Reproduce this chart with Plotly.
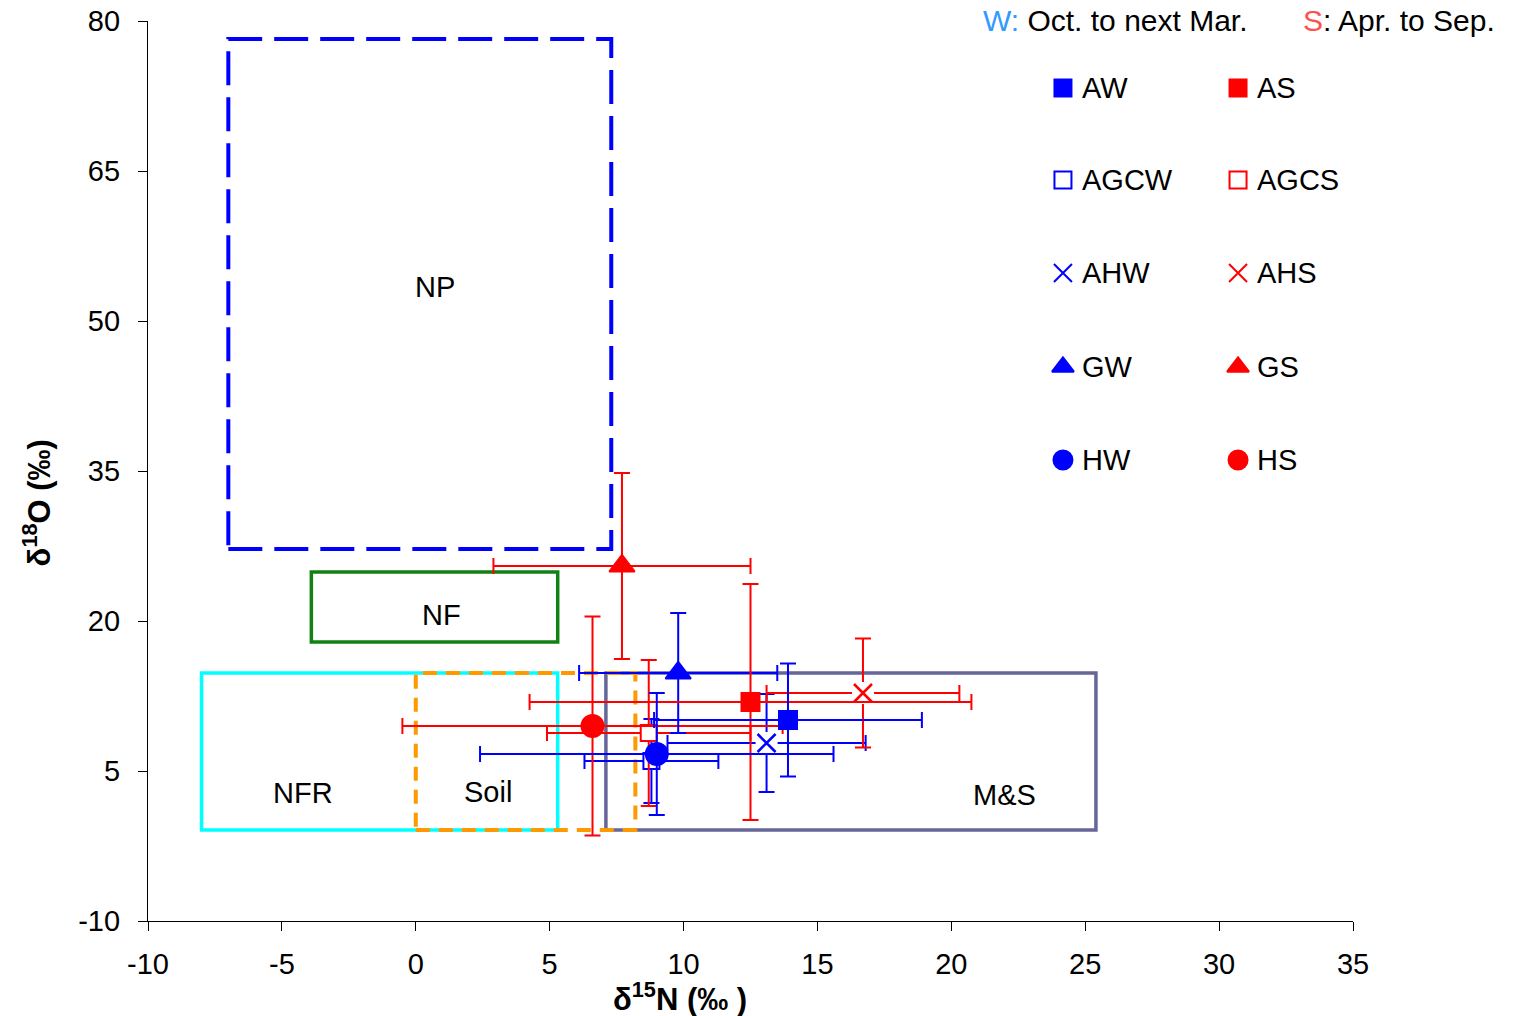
import plotly.graph_objects as go

# ---------------- data ----------------
series = ["AW", "AS", "AGCW", "AGCS", "AHW", "AHS", "GW", "GS", "HW", "HS"]
x_val = [13.9, 12.5, 8.8, 8.7, 13.1, 16.7, 9.8, 7.7, 9.0, 6.6]
y_val = [10.1, 11.9, 6.0, 8.8, 7.8, 12.8, 14.8, 25.5, 6.7, 9.5]
x_err = [5.0, 8.25, 2.5, 3.8, 3.7, 3.6, 3.7, 4.8, 6.6, 7.1]
y_err = [5.65, 11.8, 4.2, 7.3, 4.9, 5.45, 6.0, 9.3, 6.1, 10.95]

# source boxes (delta15N range, delta18O range)
box_names = ["NFR", "M&S", "Soil", "NF", "NP"]
box_x0 = [-8.0, 7.1, 0.0, -3.9, -7.0]
box_x1 = [5.3, 25.4, 8.2, 5.3, 7.3]
box_y0 = [-0.9, -0.9, -0.9, 17.9, 27.2]
box_y1 = [14.8, 14.8, 14.8, 24.9, 78.2]
box_label_x = [-4.2, 22.0, 2.7, 0.95, 0.7]
box_label_y = [2.8, 2.6, 2.9, 20.6, 53.4]

x_ticks = [-10, -5, 0, 5, 10, 15, 20, 25, 30, 35]
x_tick_text = ["-10", "-5", "0", "5", "10", "15", "20", "25", "30", "35"]
y_ticks = [-10, 5, 20, 35, 50, 65, 80]
y_tick_text = ["-10", "5", "20", "35", "50", "65", "80"]

# ---------------- styles ----------------
FONT = "Liberation Sans, Arial, sans-serif"
BLUE = "#0000FF"
RED = "#FF0000"
style = {
    "AW": dict(symbol="square", color=BLUE, size=18, fill=BLUE),
    "AS": dict(symbol="square", color=RED, size=18, fill=RED),
    "AGCW": dict(symbol="square", color=BLUE, size=16, fill="white"),
    "AGCS": dict(symbol="square", color=RED, size=16, fill="white"),
    "AHW": dict(symbol="x-thin", color=BLUE, size=18, fill=BLUE),
    "AHS": dict(symbol="x-thin", color=RED, size=18, fill=RED),
    "GW": dict(symbol="triangle-up", color=BLUE, size=22, fill=BLUE),
    "GS": dict(symbol="triangle-up", color=RED, size=22, fill=RED),
    "HW": dict(symbol="circle", color=BLUE, size=22, fill=BLUE),
    "HS": dict(symbol="circle", color=RED, size=22, fill=RED),
}
box_style = {
    "NFR": dict(color="#00FFFF", width=3.5, dash="solid"),
    "M&S": dict(color="#666699", width=3.5, dash="solid"),
    "Soil": dict(color="#FF9900", width=4, dash="14px,9px"),
    "NF": dict(color="#138013", width=3.5, dash="solid"),
    "NP": dict(color="#0000FF", width=4, dash="34px,12px"),
}
draw_order = ["AGCW", "AGCS", "AHW", "AHS", "GS", "HS", "GW", "AS", "HW", "AW"]

fig = go.Figure()

# boxes
for i, name in enumerate(box_names):
    st = box_style[name]
    fig.add_shape(type="rect", xref="x", yref="y",
                  x0=box_x0[i], x1=box_x1[i], y0=box_y0[i], y1=box_y1[i],
                  line=dict(color=st["color"], width=st["width"], dash=st["dash"]),
                  fillcolor="rgba(0,0,0,0)", layer="below")
    fig.add_annotation(x=box_label_x[i], y=box_label_y[i], xref="x", yref="y",
                       text=name, showarrow=False,
                       font=dict(family=FONT, size=29, color="black"))

# data points with error bars
for name in draw_order:
    i = series.index(name)
    st = style[name]
    is_x = st["symbol"] == "x-thin"
    fig.add_trace(go.Scatter(
        x=[x_val[i]], y=[y_val[i]], mode="markers", name=name, showlegend=False,
        marker=dict(symbol="square" if is_x else st["symbol"],
                    size=22 if is_x else st["size"],
                    color="white" if is_x else st["fill"],
                    line=dict(color="white" if is_x else st["color"],
                              width=0 if is_x else 2)),
        error_x=dict(type="data", array=[x_err[i]], symmetric=True,
                     color=st["color"], thickness=2, width=8),
        error_y=dict(type="data", array=[y_err[i]], symmetric=True,
                     color=st["color"], thickness=2, width=8),
        cliponaxis=False,
    ))
    if is_x:
        fig.add_trace(go.Scatter(
            x=[x_val[i]], y=[y_val[i]], mode="markers", showlegend=False,
            marker=dict(symbol="x-thin", size=st["size"],
                        line=dict(color=st["color"], width=2.5)),
            cliponaxis=False,
        ))

# custom two-column legend (hidden overlay axes spanning the plot area, 0..1)
leg_col_x = {"W": 0.7593, "S": 0.9046}
leg_row_y = [0.9256, 0.8233, 0.72, 0.6156, 0.5122]
leg_pairs = [("AW", "AS"), ("AGCW", "AGCS"), ("AHW", "AHS"), ("GW", "GS"), ("HW", "HS")]
leg_size = {"square": 17, "x-thin": 18, "triangle-up": 19, "circle": 19}
for r, pair in enumerate(leg_pairs):
    for c, name in zip(("W", "S"), pair):
        st = style[name]
        mk = dict(symbol=st["symbol"], size=leg_size[st["symbol"]], color=st["fill"],
                  line=dict(color=st["color"], width=2))
        fig.add_trace(go.Scatter(x=[leg_col_x[c]], y=[leg_row_y[r]], xaxis="x2", yaxis="y2",
                                 mode="markers", marker=mk, showlegend=False,
                                 cliponaxis=False, hoverinfo="skip"))
        fig.add_annotation(x=leg_col_x[c] + 0.0141, y=leg_row_y[r], xref="paper", yref="paper",
                           text=name, showarrow=False, xanchor="left", yanchor="middle",
                           font=dict(family=FONT, size=29, color="black"))

fig.add_annotation(x=0.691, y=1.001, xref="paper", yref="paper", xanchor="left", yanchor="middle",
                   showarrow=False,
                   text="<span style='color:#3399FF'>W:</span> Oct. to next Mar.",
                   font=dict(family=FONT, size=30, color="black"))
fig.add_annotation(x=1.0, y=1.001, xref="paper", yref="paper", xanchor="left", yanchor="middle",
                   showarrow=False, xshift=-52,
                   text="<span style='color:#FF5050'>S</span>: Apr. to Sep.",
                   font=dict(family=FONT, size=30, color="black"))

# axis titles
fig.add_annotation(x=0.4415, y=-0.0844, xref="paper", yref="paper", showarrow=False,
                   text="<b>δ<sup>15</sup>N (‰ )</b>", xanchor="center", yanchor="middle",
                   font=dict(family=FONT, size=31, color="black"))
fig.add_annotation(x=-0.0921, y=0.464, xref="paper", yref="paper", showarrow=False,
                   text="<b>δ<sup>18</sup>O (‰)</b>", textangle=-90,
                   xanchor="center", yanchor="middle",
                   font=dict(family=FONT, size=31, color="black"))

axis_common = dict(showgrid=False, zeroline=False, showline=True, linecolor="black",
                   linewidth=1.3, ticks="outside", ticklen=9, tickcolor="black",
                   tickwidth=1.3, automargin=False,
                   tickfont=dict(family=FONT, size=29, color="black"))
fig.update_layout(
    width=1518, height=1016,
    margin=dict(l=148, r=165, t=21, b=95),
    paper_bgcolor="white", plot_bgcolor="white",
    showlegend=False,
    xaxis=dict(range=[-10, 35], tickvals=x_ticks, ticktext=x_tick_text,
               ticklabelstandoff=8, **axis_common),
    yaxis=dict(range=[-10, 80], tickvals=y_ticks, ticktext=y_tick_text,
               ticklabelstandoff=12, **axis_common),
    xaxis2=dict(range=[0, 1], overlaying="x", visible=False, fixedrange=True),
    yaxis2=dict(range=[0, 1], overlaying="y", visible=False, fixedrange=True),
)

fig.write_html("out.html")
